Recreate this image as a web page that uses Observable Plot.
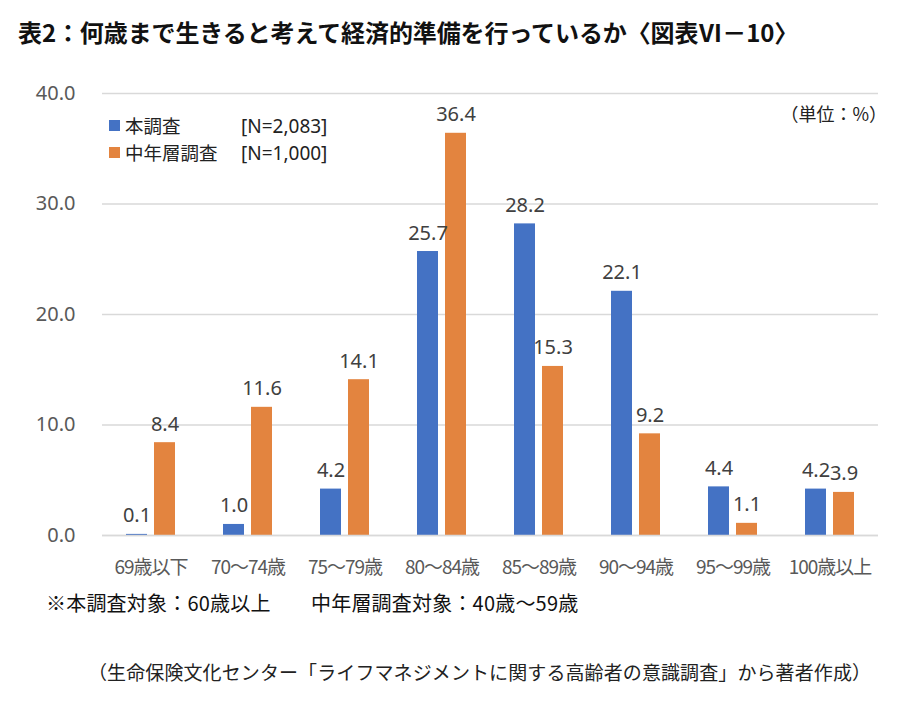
<!DOCTYPE html>
<html><head><meta charset="utf-8">
<script src="https://cdn.jsdelivr.net/npm/d3@7"></script>
<script src="https://cdn.jsdelivr.net/npm/@observablehq/plot@0.6"></script>
<style>
body{margin:0;background:#fff;width:909px;height:702px;position:relative;overflow:hidden;font-family:"Noto Sans CJK JP",sans-serif;}
#title{position:absolute;left:18px;top:14px;font-size:24px;font-weight:bold;color:#111;white-space:nowrap;letter-spacing:-0.1px;}
#chart{position:absolute;left:0;top:60px;}
#legend{position:absolute;left:109px;top:112px;font-size:18.5px;line-height:27px;color:#222;white-space:nowrap;}
.row{height:27px;}
.nm{display:inline-block;width:116px;}
.nn{font-family:"Noto Sans",sans-serif;font-size:19px;}
.sw{display:inline-block;width:11px;height:11px;margin-right:5px;vertical-align:2px;}
#unit{position:absolute;right:22px;top:100px;font-size:18px;color:#222;}
#note{position:absolute;left:46px;top:588px;font-size:20px;color:#111;white-space:nowrap;letter-spacing:0.2px;}
#cap{position:absolute;left:88px;top:658px;font-size:19px;color:#222;white-space:nowrap;letter-spacing:0.1px;}
</style></head>
<body>
<div id="title"></div>
<div id="chart"></div>
<div id="legend"></div>
<div id="unit">（単位：%）</div>
<div id="note"></div>
<div id="cap"></div>
<script>
const titleText = "表2：何歳まで生きると考えて経済的準備を行っているか〈図表Ⅵ－10〉";
const categories = ["69歳以下","70～74歳","75～79歳","80～84歳","85～89歳","90～94歳","95～99歳","100歳以上"];
const seriesNames = ["本調査","中年層調査"];
const seriesN = ["[N=2,083]","[N=1,000]"];
const seriesColors = ["#4472C4","#E3843F"];
const mainValues = [0.1,1.0,4.2,25.7,28.2,22.1,4.4,4.2];
const midValues = [8.4,11.6,14.1,36.4,15.3,9.2,1.1,3.9];
const yTicks = [0,10,20,30,40];
const noteText = "※本調査対象：60歳以上　　中年層調査対象：40歳～59歳";
const capText = "（生命保険文化センター「ライフマネジメントに関する高齢者の意識調査」から著者作成）";

document.getElementById("title").textContent = titleText;
document.getElementById("note").textContent = noteText;
document.getElementById("cap").textContent = capText;

const data = [];
categories.forEach((c,i)=>{
  data.push({cat:c, series:seriesNames[0], value:mainValues[i]});
  data.push({cat:c, series:seriesNames[1], value:midValues[i]});
});

const chart = Plot.plot({
  width: 909, height: 530,
  marginTop: 33, marginBottom: 55, marginLeft: 99, marginRight: 29,
  style: {fontFamily: '"Noto Sans CJK JP", sans-serif', background: "#fff"},
  fx: {domain: categories, padding: 0},
  x: {domain: seriesNames, axis: null, paddingInner: 0.24, paddingOuter: 0.8},
  y: {domain: [0, 40], axis: null},
  color: {domain: seriesNames, range: seriesColors},
  marks: [
    Plot.gridY(yTicks, {stroke: "#d9d9d9", strokeOpacity: 1, strokeWidth: 1.3}),
    Plot.axisY(yTicks, {tickSize: 0, tickPadding: 27, tickFormat: d3.format(".1f"), label: null, fontSize: 20, fill: "#595959", fontFamily: '"Noto Sans", sans-serif'}),
    Plot.barY(data, {fx: "cat", x: "series", y: "value", fill: "series"}),
    Plot.ruleY([0], {stroke: "#d9d9d9", strokeWidth: 1.3}),
    Plot.text(data, {fx: "cat", x: "series", y: "value", text: d => d.value.toFixed(1), lineAnchor: "bottom", dy: -12, fontSize: 20, fill: "#404040", fontFamily: '"Noto Sans", sans-serif'}),
    Plot.axisFx({anchor: "bottom", tickSize: 0, tickPadding: 25, label: null, fontSize: 19, fill: "#595959"})
  ]
});
d3.select(chart).selectAll('g[aria-label="fx-axis tick label"] text').style("letter-spacing", "-1px");
document.getElementById("chart").appendChild(chart);

const leg = document.getElementById("legend");
leg.innerHTML = seriesNames.map((s,i)=>
  `<div class="row"><span class="sw" style="background:${seriesColors[i]}"></span><span class="nm">${s}</span><span class="nn">${seriesN[i]}</span></div>`
).join("");
</script>
</body></html>
